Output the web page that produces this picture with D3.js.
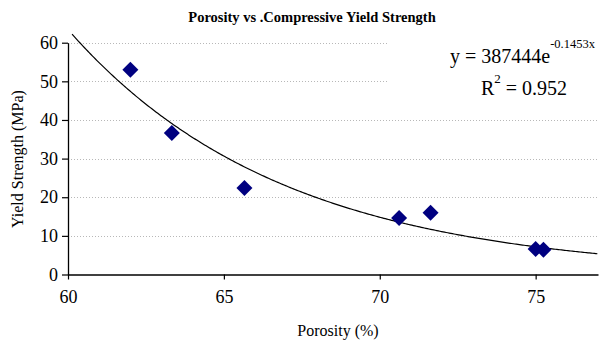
<!DOCTYPE html>
<html><head><meta charset="utf-8">
<script src="https://cdn.jsdelivr.net/npm/d3@7"></script>
<style>html,body{margin:0;padding:0;background:#fff;}svg{display:block;}
svg text{font-family:"Liberation Serif","Times New Roman",serif !important;}</style>
</head><body>
<svg id="chart" width="603" height="342"></svg>
<script>
const porosity = [62.0, 63.33, 65.66, 70.62, 71.63, 75.0, 75.25];
const strength = [53.0, 36.6, 22.4, 14.6, 16.0, 6.6, 6.4];
const xTicks = [60, 65, 70, 75];
const yTicks = [0, 10, 20, 30, 40, 50, 60];
const fitA = 387444, fitB = -0.1453;
const fitRange = [60.13, 77];
const title = "Porosity vs .Compressive Yield Strength";
const xLabel = "Porosity (%)";
const yLabel = "Yield Strength (MPa)";

const svg = d3.select("#chart");
const x = d3.scaleLinear().domain([60, 77]).range([68, 598]);
const y = d3.scaleLinear().domain([0, 60]).range([274.5, 42.7]);

// gridlines
svg.append("g").selectAll("line").data(yTicks.filter(d => d > 0)).join("line")
  .attr("x1", x(60)).attr("x2", x(77))
  .attr("y1", d => Math.round(y(d)) + 0.5).attr("y2", d => Math.round(y(d)) + 0.5)
  .attr("stroke", "#b8b8b8").attr("stroke-width", 1).attr("stroke-dasharray", "1,2");

// equation box (white background hides gridlines)
svg.append("rect").attr("x", 389).attr("y", 28).attr("width", 214).attr("height", 78).attr("fill", "#fff");

// trendline
const fitPts = d3.range(fitRange[0], fitRange[1] + 0.001, 0.05).map(v => [v, fitA * Math.exp(fitB * v)]);
svg.append("path").datum(fitPts)
  .attr("d", d3.line().x(d => x(d[0])).y(d => y(d[1])))
  .attr("fill", "none").attr("stroke", "#000").attr("stroke-width", 1.2);

// axes
const xAxis = svg.append("g").attr("transform", `translate(0,${y(0)})`)
  .call(d3.axisBottom(x).tickValues(xTicks).tickSize(5).tickSizeOuter(0).tickPadding(11).tickFormat(d3.format("d")));
const yAxis = svg.append("g").attr("transform", `translate(${x(60)},0)`)
  .call(d3.axisLeft(y).tickValues(yTicks).tickSize(6).tickSizeOuter(0).tickPadding(4).tickFormat(d3.format("d")));
[xAxis, yAxis].forEach(a => {
  a.select(".domain").attr("stroke", "#000").attr("stroke-width", 1.3);
  a.selectAll(".tick line").attr("stroke", "#000").attr("stroke-width", 1.2);
  a.selectAll("text").attr("font-size", 18).attr("fill", "#000");
});

// markers
const diamond = "M0,-8L8,0L0,8L-8,0Z";
svg.append("g").selectAll("path").data(porosity.map((p, i) => [p, strength[i]])).join("path")
  .attr("d", diamond)
  .attr("transform", d => `translate(${x(d[0])},${y(d[1])})`)
  .attr("fill", "#000080");

// title
svg.append("text").attr("x", 312).attr("y", 22).attr("text-anchor", "middle")
  .attr("font-weight", "bold").attr("font-size", 14.5).text(title);

// axis labels
svg.append("text").attr("x", 338).attr("y", 336).attr("text-anchor", "middle")
  .attr("font-size", 16).text(xLabel);
svg.append("text").attr("transform", "translate(23,159) rotate(-90)").attr("text-anchor", "middle")
  .attr("font-size", 16).text(yLabel);

// equation
const eq = svg.append("text").attr("fill", "#000");
eq.append("tspan").attr("x", 450).attr("y", 63).attr("font-size", 20).text("y = " + fitA + "e");
eq.append("tspan").attr("dy", -15).attr("font-size", 12.5).text(fitB.toString() + "x");
const r2 = svg.append("text").attr("fill", "#000");
r2.append("tspan").attr("x", 481).attr("y", 95).attr("font-size", 20).text("R");
r2.append("tspan").attr("dy", -12).attr("font-size", 13).text("2");
r2.append("tspan").attr("dy", 12).attr("font-size", 20).text(" = 0.952");
</script>
</body></html>
